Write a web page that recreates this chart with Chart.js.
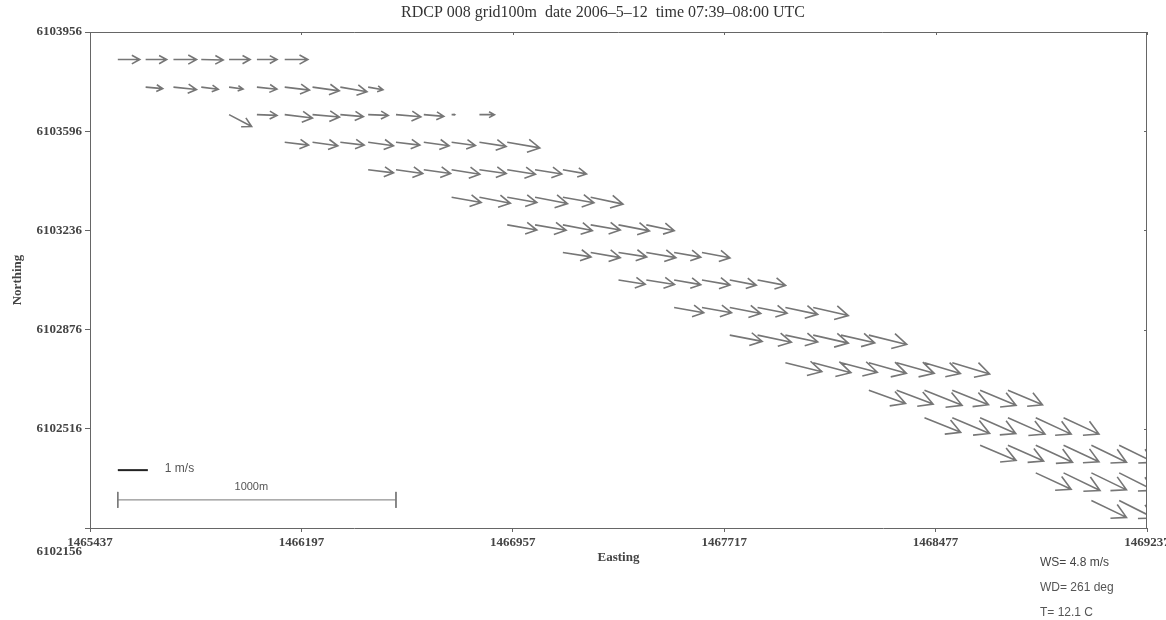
<!DOCTYPE html>
<html><head><meta charset="utf-8">
<script src="https://cdn.jsdelivr.net/npm/chart.js@4/dist/chart.umd.min.js"></script>
<style>html,body{margin:0;padding:0;background:#fff}#wrap{width:1166px;height:620px}</style>
</head><body><div id="wrap"><canvas id="c" width="1166" height="620"></canvas></div>
<script>
// ---- data ----
const titleText = 'RDCP 008 grid100m  date 2006\u20135\u201312  time 07:39\u201308:00 UTC';
const xTickValues = [1465437, 1466197, 1466957, 1467717, 1468477, 1469237];
const yTickValues = [6102156, 6102516, 6102876, 6103236, 6103596, 6103956];
const colOrigin = 1465537;      // easting of grid column 0 (m)
const gridStep = 100;           // grid spacing (m)
const rowNorthing = [6103856, 6103756, 6103656, 6103556, 6103456, 6103356, 6103256, 6103156, 6103056,
                     6102956, 6102856, 6102756, 6102656, 6102556, 6102456, 6102356, 6102256];
const rowStartCol = [0, 1, 4, 6, 9, 12, 14, 16, 18, 20, 22, 24, 27, 29, 31, 33, 35];
// current speed (m/s) per arrow
const rowSpeed = [
  [0.73,0.70,0.77,0.73,0.70,0.67,0.77],
  [0.57,0.77,0.57,0.47,0.67,0.83,0.90,0.90,0.50],
  [0.85,0.67,0.93,0.90,0.77,0.67,0.83,0.67,0.10,0.50],
  [0.80,0.85,0.80,0.85,0.80,0.85,0.80,0.90,1.10],
  [0.85,0.90,0.90,0.95,0.90,0.95,0.90,0.80],
  [1.00,1.05,1.00,1.10,1.05,1.10],
  [1.00,1.05,1.00,1.00,1.05,0.95],
  [0.95,1.00,0.95,1.00,0.90,0.95],
  [0.90,0.95,0.90,0.95,0.90,0.95],
  [1.00,1.00,1.05,1.00,1.10,1.20],
  [1.10,1.15,1.10,1.20,1.15,1.30],
  [1.25,1.30,1.25,1.30,1.30,1.25,1.30],
  [1.30,1.30,1.35,1.30,1.30,1.25],
  [1.30,1.35,1.30,1.35,1.30,1.30],
  [1.30,1.30,1.35,1.30,1.30,1.30],
  [1.30,1.35,1.30,1.30],
  [1.30,1.30]
];
// direction the current flows toward (deg clockwise from north)
const rowDir = [
  [90,90,90,91,90,90,90],
  [95,96,97,98,96,97,98,100,100],
  [118,92,97,95,95,92,95,95,90,90],
  [97,98,97,98,97,98,98,99,100],
  [97,98,98,99,98,99,99,100],
  [100,101,100,101,100,102],
  [100,100,101,100,101,102],
  [99,100,99,100,100,101],
  [99,99,100,100,101,101],
  [100,100,101,101,102,103],
  [101,102,102,103,103,104],
  [104,105,105,106,106,107,107],
  [110,111,112,112,113,113],
  [112,113,114,114,115,115],
  [113,114,115,115,116,116],
  [115,116,116,117],
  [116,117]
];
const refSpeed = 1;             // reference arrow, m/s
const refLabel = '1 m/s';
const scaleBarLength = 1000;    // m
const scaleBarLabel = '1000m';
const infoLines = ['WS= 4.8 m/s', 'WD= 261 deg', 'T= 12.1 C'];

// ---- construction ----
const ARROW_SCALE = 108;  // map metres per (m/s) of arrow length
const HEAD_A = 0.36, HEAD_B = 0.55;
const refPos = {e: 1465537, n: 6102366};
const barPos = {e: 1465537, n: 6102258};

function arrowPoints(x, y, u, v, out) {
  const du = u * ARROW_SCALE, dv = v * ARROW_SCALE;
  const tx = x + du, ty = y + dv;
  out.push({x: x, y: y}, {x: tx, y: ty}, {x: tx, y: null});
  out.push({x: tx - HEAD_A * (du + HEAD_B * dv), y: ty - HEAD_A * (dv - HEAD_B * du)},
           {x: tx, y: ty},
           {x: tx - HEAD_A * (du - HEAD_B * dv), y: ty - HEAD_A * (dv + HEAD_B * du)},
           {x: tx, y: null});
}
const arrowData = [];
rowNorthing.forEach((n, r) => {
  rowSpeed[r].forEach((s, k) => {
    const d = rowDir[r][k] * Math.PI / 180;
    const e = colOrigin + (rowStartCol[r] + k) * gridStep;
    arrowPoints(e, n, s * Math.sin(d), s * Math.cos(d), arrowData);
  });
});
const refData = [{x: refPos.e, y: refPos.n}, {x: refPos.e + refSpeed * ARROW_SCALE, y: refPos.n}];
const tk = 29;
const barData = [
  {x: barPos.e, y: barPos.n + tk}, {x: barPos.e, y: barPos.n - tk}, {x: barPos.e, y: null},
  {x: barPos.e, y: barPos.n}, {x: barPos.e + scaleBarLength, y: barPos.n}, {x: barPos.e, y: null},
  {x: barPos.e + scaleBarLength, y: barPos.n + tk}, {x: barPos.e + scaleBarLength, y: barPos.n - tk}
];

const serif = '"Liberation Serif", "DejaVu Serif", serif';
const sans = '"Liberation Sans", Arial, sans-serif';

const decor = {
  id: 'decor',
  afterDraw(chart) {
    const {ctx, chartArea: a, scales: {x, y}} = chart;
    ctx.save();
    ctx.strokeStyle = '#666'; ctx.lineWidth = 1;
    ctx.beginPath();
    ctx.moveTo(a.left, a.top + 0.5); ctx.lineTo(a.right, a.top + 0.5);
    ctx.moveTo(a.right - 0.5, a.top); ctx.lineTo(a.right - 0.5, a.bottom);
    xTickValues.forEach(v => { const px = Math.round(x.getPixelForValue(v)) + 0.5; ctx.moveTo(px, a.top); ctx.lineTo(px, a.top + 3); });
    yTickValues.forEach(v => { const py = Math.round(y.getPixelForValue(v)) + 0.5; ctx.moveTo(a.right, py); ctx.lineTo(a.right - 3, py); });
    ctx.stroke();
    ctx.fillStyle = '#333'; ctx.font = '16px ' + serif;
    ctx.textAlign = 'center'; ctx.textBaseline = 'middle';
    ctx.fillText(titleText, 603, 13);
    ctx.font = 'bold 13px ' + serif; ctx.fillStyle = '#444'; ctx.textAlign = 'right';
    ctx.fillText(String(yTickValues[0]), a.left - 8, y.getPixelForValue(yTickValues[0]) + 24);
    ctx.font = '12px ' + sans; ctx.fillStyle = '#555'; ctx.textAlign = 'left';
    ctx.fillText(refLabel, x.getPixelForValue(refPos.e + refSpeed * ARROW_SCALE) + 17, y.getPixelForValue(refPos.n) - 1);
    ctx.font = '11px ' + sans; ctx.textAlign = 'center';
    ctx.fillText(scaleBarLabel, x.getPixelForValue(barPos.e + scaleBarLength * 0.48), y.getPixelForValue(barPos.n) - 13);
    ctx.textAlign = 'left'; ctx.font = '12px ' + sans;
    infoLines.forEach((t, i) => { ctx.fillStyle = i === 0 ? '#444' : '#555'; ctx.fillText(t, 1040, 563 + i * 25); });
    ctx.restore();
  }
};

new Chart(document.getElementById('c'), {
  type: 'scatter',
  data: {
    datasets: [
      {data: arrowData, showLine: true, spanGaps: false, borderColor: '#767676', borderWidth: 1.6, pointRadius: 0},
      {data: refData, showLine: true, borderColor: '#222', borderWidth: 2, pointRadius: 0},
      {data: barData, showLine: true, spanGaps: false, borderColor: '#777', borderWidth: 1, pointRadius: 0}
    ]
  },
  options: {
    responsive: false, animation: false, devicePixelRatio: 1,
    layout: {padding: {left: 0, right: 19, top: 32, bottom: 0}},
    plugins: {legend: {display: false}, tooltip: {enabled: false}, title: {display: false}},
    scales: {
      x: {
        type: 'linear', min: xTickValues[0], max: xTickValues[xTickValues.length - 1],
        afterBuildTicks: s => { s.ticks = xTickValues.map(v => ({value: v})); },
        afterFit: s => { s.height = 92; s.paddingLeft = 0; s.paddingRight = 0; },
        ticks: {callback: v => String(v), font: {family: serif, size: 13, weight: 'bold'}, color: '#444', padding: 3, maxRotation: 0, autoSkip: false},
        grid: {drawOnChartArea: false, drawTicks: true, tickLength: 4, color: '#666'},
        border: {display: true, color: '#666'},
        title: {display: true, text: 'Easting', font: {family: serif, size: 13, weight: 'bold'}, color: '#444', padding: {top: 0, bottom: 55}}
      },
      y: {
        type: 'linear', min: yTickValues[0], max: yTickValues[yTickValues.length - 1],
        afterBuildTicks: s => { s.ticks = yTickValues.map(v => ({value: v})); },
        afterFit: s => { s.width = 90; s.paddingTop = 0; s.paddingBottom = 0; },
        ticks: {callback: v => (v === yTickValues[0] ? '' : String(v)), font: {family: serif, size: 13, weight: 'bold'}, color: '#444', padding: 3, autoSkip: false},
        grid: {drawOnChartArea: false, drawTicks: true, tickLength: 5, color: '#666'},
        border: {display: true, color: '#666'},
        title: {display: true, text: 'Northing', font: {family: serif, size: 13, weight: 'bold'}, color: '#444', padding: {top: 10, bottom: 0}}
      }
    }
  },
  plugins: [decor]
});
</script></body></html>
